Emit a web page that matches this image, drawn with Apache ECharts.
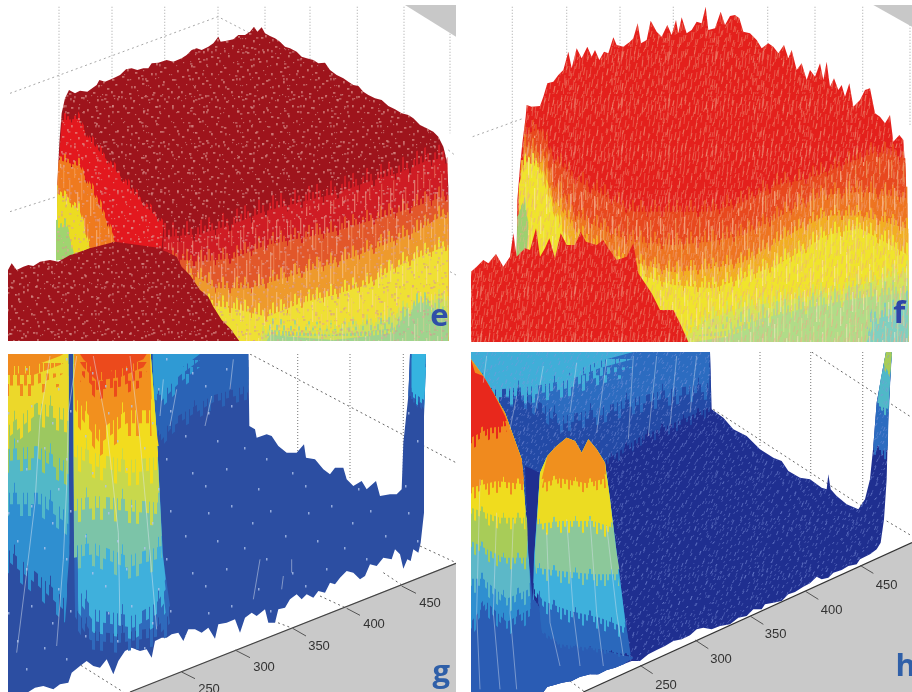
<!DOCTYPE html>
<html><head><meta charset="utf-8">
<style>html,body{margin:0;padding:0;background:#fff}#c{width:912px;height:692px;filter:blur(0.6px)}</style>
<script src="https://cdn.jsdelivr.net/npm/echarts@6/dist/echarts.min.js"></script>
</head><body><div id="c"></div>
<script>
// ---------- panel e (picture units, three per pixel) ----------
const eMain=[[170,780],[172,560],[178,430],[185,340],[195,295],[207,270],[225,280],[240,272],[262,275],[290,255],[298,240],[315,245],[340,235],[360,225],[378,208],[395,205],[412,210],[430,205],[445,205],[455,190],[475,188],[500,180],[520,185],[545,175],[560,165],[575,150],[590,145],[605,150],[625,140],[640,130],[655,110],[662,125],[680,122],[700,118],[715,105],[735,105],[750,95],[762,80],[772,95],[785,82],[795,100],[810,108],[825,115],[840,125],[855,140],[870,145],[890,155],[905,170],[920,175],[940,180],[955,190],[975,188],[990,210],[1010,225],[1030,235],[1045,245],[1060,255],[1075,258],[1090,275],[1105,285],[1125,295],[1145,300],[1165,318],[1185,328],[1205,340],[1225,345],[1240,355],[1260,375],[1280,385],[1300,395],[1315,410],[1330,440],[1340,480],[1345,560],[1345,1023],[500,1023],[480,760]];
const eRedR=[[490,730],[600,720],[700,690],[800,650],[900,625],[1000,600],[1100,565],[1200,535],[1280,500],[1342,490],[1345,1023],[490,1023]];
const eOrangeR=[[500,790],[600,800],[700,790],[800,750],[900,730],[1000,710],[1100,680],[1200,650],[1345,600],[1345,1023],[500,1023]];
const eGoldR=[[560,830],[650,880],[750,880],[850,850],[950,820],[1050,790],[1150,750],[1250,710],[1345,650],[1345,1023],[560,1023]];
const eYellowR=[[620,930],[700,940],[800,965],[900,925],[1000,900],[1100,870],[1200,810],[1345,750],[1345,1023],[620,1023]];
const eLimeR=[[780,1023],[790,1000],[880,1005],[1000,1000],[1150,975],[1230,930],[1345,900],[1345,1023]];
const eGreenR=[[800,1023],[810,1005],[1000,1020],[1180,1000],[1260,920],[1345,960],[1345,1023]];
const eWedgeRed=[[187,370],[235,365],[270,430],[330,500],[420,610],[490,680],[485,745],[345,725],[300,620],[240,510],[178,480]];
const eWedgeOrange=[[176,490],[240,510],[290,610],[345,725],[270,745],[240,650],[172,590]];
const eWedgeYellow=[[172,590],[238,640],[270,745],[170,780]];
const eWedgeGreen=[[168,695],[200,690],[222,770],[168,782]];
const eFront=[[24,1023],[24,810],[35,790],[50,810],[70,800],[85,795],[100,798],[120,785],[150,780],[175,785],[210,765],[240,758],[270,745],[310,745],[340,725],[360,735],[385,732],[410,738],[440,745],[470,745],[500,755],[530,770],[545,800],[570,825],[600,870],[625,890],[640,920],[665,960],[690,985],[718,1023]];
const eCorner=[[1215,15],[1368,15],[1368,110]];
const eGridX=[177,336,494,654,795,930,1072,1212,1350];
const eGridEnd=[800,260,190,130,90,190,260,340,400];
const eDiag=[[[30,280],[654,50],[760,105]],[[30,635],[170,590]],[[1345,450],[1368,468]],[[1350,815],[1368,825]]];

// ---------- panel f ----------
const fMain=[[170,770],[172,600],[180,500],[187,430],[197,350],[200,315],[215,320],[240,318],[250,290],[262,250],[280,245],[295,225],[310,210],[325,155],[335,205],[350,145],[365,175],[382,140],[395,170],[405,150],[418,180],[432,155],[445,160],[460,112],[470,135],[490,140],[510,125],[520,115],[533,70],[543,130],[560,120],[572,62],[590,95],[605,110],[622,75],[635,105],[648,60],[655,100],[665,52],[680,100],[695,90],[710,65],[725,70],[737,20],[745,90],[765,85],[782,35],[795,75],[810,48],[825,45],[838,55],[850,95],[870,100],[890,120],[905,145],[925,130],[940,140],[955,160],[972,135],[985,175],[995,150],[1010,210],[1025,190],[1040,240],[1050,210],[1065,230],[1080,190],[1090,240],[1100,185],[1110,260],[1122,235],[1135,270],[1145,255],[1155,290],[1168,250],[1180,320],[1200,300],[1215,270],[1230,265],[1245,340],[1260,350],[1275,370],[1290,345],[1300,425],[1318,405],[1330,420],[1338,540],[1340,700],[1345,1026],[500,1026],[480,780]];
const fOrange=[[195,420],[240,400],[275,480],[340,550],[430,600],[520,650],[650,650],[750,650],[850,620],[950,570],[1050,550],[1150,510],[1250,470],[1336,490],[1345,1026],[195,1026]];
const fDeepOrange=[[190,450],[250,480],[285,570],[345,660],[440,710],[520,740],[640,750],[750,740],[850,720],[950,670],[1020,630],[1100,600],[1200,590],[1342,610],[1345,1026],[190,1026]];
const fGold=[[182,510],[245,500],[275,600],[350,710],[440,770],[520,800],[640,830],[750,820],[850,800],[950,740],[1020,700],[1100,660],[1200,660],[1345,700],[1345,1026],[182,1026]];
const fYellow=[[176,570],[200,500],[240,520],[260,590],[300,690],[330,770],[540,840],[640,870],[760,880],[850,850],[950,810],[1020,770],[1100,720],[1200,700],[1345,780],[1345,1026],[176,1026]];
const fLime=[[660,1026],[690,1000],[780,960],[850,935],[950,920],[1050,905],[1200,870],[1345,830],[1345,1026]];
const fGreen=[[700,1026],[800,1010],[900,975],[1050,940],[1180,915],[1345,895],[1345,1026]];
const fTeal=[[1220,1026],[1240,975],[1290,965],[1345,930],[1345,1026]];
const fLeftGreen=[[172,650],[195,610],[205,680],[200,760],[170,770]];
const fFront=[[33,1026],[33,815],[50,800],[70,780],[85,790],[108,762],[130,800],[150,770],[160,700],[170,770],[195,745],[210,750],[228,685],[240,770],[255,745],[268,715],[285,775],[302,700],[320,735],[345,735],[362,695],[378,725],[410,735],[430,720],[445,745],[470,780],[500,770],[520,730],[535,820],[555,850],[575,880],[600,930],[640,930],[660,970],[685,1026]];
const fCorner=[[1240,15],[1356,15],[1356,80]];
const fGridX=[157,320,480,640,923,1065,1208,1350];
const fGridEnd=[770,240,140,100,150,230,280,380];
const fDiag=[[[38,410],[190,355]]];

// ---------- panel g ----------
const gMain=[[24,24],[745,24],[748,240],[765,250],[770,275],[800,265],[815,270],[835,300],[860,320],[890,320],[912,295],[918,335],[945,340],[970,370],[990,385],[1005,365],[1030,365],[1040,400],[1060,420],[1085,405],[1100,430],[1128,405],[1140,450],[1170,445],[1190,445],[1205,430],[1210,290],[1225,150],[1230,24],[1278,24],[1272,180],[1272,500],[1262,590],[1255,620],[1240,610],[1232,645],[1222,640],[1210,668],[1200,625],[1185,610],[1175,640],[1150,635],[1130,660],[1110,655],[1095,690],[1080,700],[1060,680],[1040,675],[1020,695],[1005,715],[990,710],[975,740],[955,735],[940,755],[920,745],[905,760],[890,745],[870,760],[855,785],[835,790],[825,830],[805,830],[795,790],[770,810],[755,800],[735,815],[720,860],[705,820],[680,830],[655,835],[645,878],[625,845],[605,860],[585,850],[565,850],[550,885],[535,860],[515,865],[500,875],[485,875],[465,885],[455,935],[440,910],[420,915],[395,905],[375,915],[355,945],[340,985],[320,940],[300,965],[280,960],[260,945],[240,960],[215,980],[205,1010],[180,1015],[160,1030],[130,1020],[105,1025],[85,1038],[24,1038]];
const gBackMid=[[458,24],[745,24],[745,100],[640,130],[520,200],[470,260],[458,200]];
const gBackCyan=[[458,24],[600,24],[540,70],[480,130],[462,120]];
const gSpikeMid=[[1225,150],[1230,24],[1278,24],[1272,180],[1250,150]];
const gSpikeCyan=[[1235,24],[1278,24],[1272,150],[1235,125]];
const gLeftCyan=[[24,24],[205,24],[208,560],[195,730],[110,650],[24,580]];
const gLeftTeal=[[24,24],[205,24],[205,470],[120,410],[24,410]];
const gLeftGreen=[[24,24],[205,24],[205,320],[110,270],[24,280]];
const gLeftYellow=[[24,24],[205,24],[205,160],[110,140],[24,210]];
const gLeftOrange=[[24,24],[190,24],[180,30],[100,60],[24,60]];
const gMidBlue=[[220,24],[452,24],[470,260],[490,640],[510,780],[470,820],[350,840],[270,830],[225,760]];
const gMidCyan=[[220,24],[452,24],[470,260],[488,620],[497,700],[470,740],[400,780],[280,760],[235,700]];
const gMidTeal=[[220,24],[452,24],[470,260],[485,570],[380,600],[280,560],[222,570]];
const gMidGreen=[[220,24],[452,24],[470,260],[478,440],[380,430],[290,420],[222,430]];
const gMidYellow=[[222,24],[452,24],[470,260],[476,300],[380,310],[290,290],[222,260]];
const gMidOrange=[[222,24],[450,24],[455,160],[380,160],[300,220],[225,120]];
const gMidRed=[[240,24],[440,24],[430,40],[360,70],[290,80],[250,40]];
const gGray=[[390,1038],[1368,650],[1368,1038]];
const gAxis=[[390,1038],[1368,652]];
const gTicks=[[[545,978],[585,998]],[[705,912],[750,935]],[[878,847],[918,870]],[[1040,787],[1080,808]],[[1205,720],[1248,742]]];
const gTickLabels=['250','300','350','400','450'];
const gTickPos=[[627,1030],[792,965],[957,900],[1122,835],[1290,772]];
const gGridX=[893,1050,1210];
const gGridEnd=[320,400,430];
const gDiag=[[[750,24],[1368,350]],[[1260,600],[1368,650]],[[230,950],[370,1038]],[[1150,680],[1210,720]],[[960,750],[1040,787]],[[820,825],[878,847]]];
const gStreaks=[[[230,30],[205,200],[200,420],[190,640],[170,900]],[[150,30],[120,220],[105,470],[75,720],[50,920]],[[280,30],[320,240],[355,560],[360,840]],[[390,30],[420,280],[450,620],[470,850]],[[490,100],[480,210]],[[530,130],[510,240]],[[635,150],[615,240]],[[700,40],[690,130]],[[780,640],[760,760]],[[875,640],[875,680]],[[850,690],[845,730]]];

// ---------- panel h ----------
const hMain=[[33,18],[750,18],[755,190],[790,215],[820,250],[860,270],[900,310],[940,335],[965,345],[985,375],[1020,395],[1050,400],[1085,425],[1100,430],[1105,385],[1112,430],[1130,450],[1160,475],[1195,490],[1215,460],[1230,400],[1240,300],[1250,170],[1270,60],[1278,18],[1295,18],[1285,200],[1280,400],[1272,520],[1262,590],[1250,610],[1230,625],[1200,640],[1190,655],[1165,660],[1145,672],[1120,680],[1105,695],[1085,700],[1070,692],[1050,712],[1030,722],[1005,738],[985,745],[965,765],[940,770],[915,775],[905,790],[880,790],[860,810],[835,815],[810,835],[780,840],[755,850],[730,845],[710,850],[690,868],[665,880],[640,885],[615,900],[590,912],[565,925],[540,945],[515,945],[490,955],[465,965],[440,972],[415,985],[390,985],[360,992],[335,1005],[305,1010],[280,1018],[262,1022],[250,1038],[33,1038]];
const hBackBlue=[[33,18],[750,18],[752,170],[640,220],[540,260],[440,330],[300,400],[33,600]];
const hBackMid=[[33,18],[750,18],[745,90],[620,110],[500,140],[400,170],[300,190],[200,120],[33,90]];
const hBackCyan=[[33,18],[520,18],[420,45],[330,80],[220,100],[100,110],[33,50]];
const hSpikeMid=[[1250,170],[1270,60],[1278,18],[1295,18],[1285,200],[1283,300],[1240,300]];
const hSpikeTeal=[[1262,100],[1270,60],[1278,18],[1295,18],[1288,120],[1285,180],[1252,170]];
const hSpikeGreen=[[1272,50],[1278,18],[1295,18],[1290,80]];
const hBottomBlue=[[33,600],[205,640],[222,760],[300,880],[520,935],[490,955],[465,965],[440,972],[415,985],[390,985],[360,992],[335,1005],[305,1010],[280,1018],[262,1022],[250,1038],[33,1038]];
const hLeftMid=[[33,40],[70,90],[135,200],[185,340],[197,500],[208,650],[212,770],[140,810],[80,750],[33,810]];
const hLeftCyan=[[33,40],[70,90],[135,200],[185,340],[197,500],[207,640],[210,710],[140,740],[70,680],[33,680]];
const hLeftGreen=[[33,40],[70,90],[135,200],[185,340],[197,500],[204,530],[200,620],[130,620],[33,570]];
const hLeftYellow=[[33,40],[70,90],[135,200],[185,340],[197,500],[120,500],[33,470]];
const hLeftOrange=[[33,40],[70,90],[135,200],[185,340],[192,400],[110,390],[33,410]];
const hLeftRed=[[33,40],[45,80],[70,90],[100,140],[135,210],[140,225],[90,230],[33,260]];
const hGap=[[195,360],[240,380],[225,640],[218,760],[205,620]];
const hMidBlue=[[222,640],[240,380],[262,330],[290,300],[320,275],[345,285],[365,320],[385,280],[410,310],[435,350],[450,460],[470,620],[490,780],[508,900],[512,925],[420,905],[300,890],[245,850]];
const hMidCyan=[[222,640],[240,380],[262,330],[290,300],[320,275],[345,285],[365,320],[385,280],[410,310],[435,350],[450,460],[470,620],[490,780],[496,830],[420,800],[330,780],[250,750],[220,710]];
const hMidGreen=[[225,620],[240,380],[262,330],[290,300],[320,275],[345,285],[365,320],[385,280],[410,310],[435,350],[450,460],[470,620],[478,670],[400,670],[300,660],[228,650]];
const hMidYellow=[[232,520],[240,380],[262,330],[290,300],[320,275],[345,285],[365,320],[385,280],[410,310],[435,350],[450,460],[458,530],[400,510],[300,510]];
const hMidOrange=[[245,400],[262,330],[290,300],[320,275],[345,285],[365,320],[385,280],[410,310],[435,350],[438,385],[380,400],[300,385]];
const hGray=[[370,1038],[1356,590],[1356,1038]];
const hAxis=[[370,1038],[1356,590]];
const hTicks=[[[540,958],[578,983]],[[705,882],[745,908]],[[870,810],[910,835]],[[1035,735],[1075,760]],[[1200,658],[1240,682]]];
const hTickLabels=['250','300','350','400','450'];
const hTickPos=[[618,1018],[783,940],[947,865],[1115,793],[1280,718]];
const hGridX=[900,1052,1208];
const hGridEnd=[300,390,470];
const hDiag=[[[1055,18],[1356,215]],[[760,190],[1205,480]],[[1280,525],[1356,570]],[[330,1005],[372,1036]]];
const hStreaks=[[[80,30],[70,110]],[[170,150],[150,250]],[[250,60],[225,200]],[[350,50],[330,200]],[[440,40],[410,260]],[[520,30],[505,280]],[[590,30],[565,270]],[[650,30],[630,240]],[[710,30],[690,200]],[[60,400],[50,800],[60,1030]],[[110,500],[100,800],[120,1030]],[[160,520],[150,800],[170,1030]],[[260,560],[270,830],[300,960]],[[320,520],[340,800],[360,960]],[[390,520],[410,800],[430,960]],[[440,540],[470,800],[490,930]]];

// ---------- panel letters ----------
const panelLetters=['e','f','g','h'];
const letterPos=[[1318,951],[1318,944],[1324,981],[1337,964]];

// ---------- texture tiles ----------
const speckleDots=[[3,2],[11,5],[19,1],[27,6],[36,3],[44,7],[53,2],[7,9],[15,12],[23,10],[31,13],[40,11],[49,14],[57,10],[2,16],[10,19],[18,17],[26,20],[35,18],[43,21],[52,19],[6,24],[14,26],[22,23],[30,27],[38,25],[47,28],[56,24],[1,31],[9,33],[17,30],[25,35],[33,32],[42,34],[51,31],[58,36],[5,38],[13,40],[21,37],[29,42],[37,39],[46,41],[54,38],[3,45],[11,47],[19,44],[27,49],[35,46],[44,48],[52,45],[7,52],[15,54],[23,51],[31,56],[40,53],[48,55],[57,51],[1,58],[18,58],[37,57]];
const streakLines=[[2,4,30],[5,48,18],[9,30,26],[12,2,16],[15,8,22],[18,52,20],[21,38,28],[24,14,20],[27,2,32],[30,44,22],[33,26,30],[36,0,18],[39,12,26],[42,50,20],[45,44,24],[48,20,18],[51,0,24],[54,36,26],[57,30,26],[60,4,20],[63,10,34],[66,50,18],[69,36,22],[71,6,16]];
const sparseDots=[[8,12],[31,5],[52,22],[17,40],[44,47],[70,10],[66,58],[26,68],[85,35],[92,72],[5,85],[58,88]];
const combDense=[0,4,8,11,15,19,22,26,30,33];
const combMid=[2,10,17,24,31];
const combSparse=[6,20,28];

function tile(w,h,draw){const c=document.createElement('canvas');c.width=w;c.height=h;draw(c.getContext('2d'));return {image:c,repeat:'repeat'};}
const texDots=(color,size,skip)=>tile(size,size,x=>{x.fillStyle=color;speckleDots.forEach((d,i)=>{if(i%skip===0)x.fillRect(d[0]%size,d[1]%size,1.2+(i%3)*.6,1.2+((i*2)%3)*.6);});});
const texStreak=(a,b)=>tile(72,72,x=>{streakLines.forEach((s,i)=>{x.fillStyle=i%2?a:b;x.fillRect(s[0],s[1],1.3,s[2]);});});
const texSparse=color=>tile(100,100,x=>{x.fillStyle=color;sparseDots.forEach(d=>x.fillRect(d[0],d[1],1.5,2.5));});
const texDash=(color,len,size)=>tile(size,size,x=>{x.strokeStyle=color;x.lineWidth=1;speckleDots.forEach((d,i)=>{const a=d[0]%size,b=d[1]%size;x.beginPath();x.moveTo(a+1,b);x.lineTo(a+(len>4?0:-.5),b+len*(1+(i%3)*.5));x.stroke();});});
const combCache={};
function comb(color,xs,w){const k=color+xs.length+w;if(!combCache[k])combCache[k]=tile(36,4,x=>{x.fillStyle=color;xs.forEach(v=>x.fillRect(v,0,w,4));});return combCache[k];}

const redSpeck=texDots('rgba(225,165,155,.6)',60,1), redSpeck2=texDots('rgba(215,150,145,.5)',47,2), fSpeck=texDash('rgba(240,165,130,.5)',4,60), fSpeck2=texDash('rgba(240,175,150,.35)',5,47);
const warmStreak=texStreak('rgba(255,225,190,.42)','rgba(255,200,150,.3)'), fStreak=texStreak('rgba(255,235,200,.5)','rgba(240,235,150,.38)');
const gSpeck=texSparse('rgba(175,195,235,.8)'), hSpeck=texDash('rgba(130,150,220,.55)',2,60), hSpeck2=texDash('rgba(130,150,220,.35)',2,47);

const P=(pts,fill)=>({k:'poly',pts,fill});
const L=(pts,color,width,dash)=>({k:'line',pts,color,width,dash});
const T=(pos,text,color,size,weight)=>({k:'text',pos,text,color,size,weight});
const grids=(xs,ends,y0,c)=>xs.map((x,i)=>L([[x,y0],[x,ends[i]]],c,1.2,[1,2]));
const diags=(d,c)=>d.map(p=>L(p,c,1,[2,3]));
const shift=(pts,dy)=>pts.map(p=>[p[0],p[1]+dy]);
// A colour band with the comb of columns that runs into its neighbour
const B=(pts,color,amp,w=2)=>[P(pts,color),P(shift(pts,amp*.3),comb(color,combDense,w)),P(shift(pts,amp*.65),comb(color,combMid,w)),P(shift(pts,amp),comb(color,combSparse,w))];

const shapesE=[...grids(eGridX,eGridEnd,20,'#b4b4b4'),...diags(eDiag,'#a8a8a8'),P(eCorner,'#c8c8c8'),
 P(eMain,'#9e141c'),...B(eRedR,'#cf1c24',-60),...B(eOrangeR,'#e2572a',-50),...B(eGoldR,'#ee9a2c',-50),...B(eYellowR,'#efe034',-50),...B(eLimeR,'#cfe05a',-40),...B(eGreenR,'#9fd48e',-50),
 ...B(eWedgeRed,'#e3181e',-30),...B(eWedgeOrange,'#ef7a1e',-35),...B(eWedgeYellow,'#ecdc22',-35),...B(eWedgeGreen,'#a0d470',-35),
 P(eRedR,warmStreak),P(eWedgeOrange,warmStreak),P(eMain,redSpeck),P(eMain,redSpeck2),P(eFront,'#9e141c'),P(eFront,redSpeck),P(eFront,redSpeck2),
 T(letterPos[0],panelLetters[0],'#2f4fa8',31,'bold')];
const shapesF=[...grids(fGridX,fGridEnd,20,'#b4b4b4'),...diags(fDiag,'#a8a8a8'),P(fCorner,'#c8c8c8'),
 P(fMain,'#e4201c'),...B(fOrange,'#e8481e',-50),...B(fDeepOrange,'#ee7420',-50),...B(fGold,'#f2ae22',-45),...B(fYellow,'#f0e42c',-50),...B(fLime,'#d6e458',-50),...B(fGreen,'#b0dc88',-60),...B(fTeal,'#80cfc0',-60),...B(fLeftGreen,'#9ed070',-20),
 P(fOrange,fStreak),P(fMain,fSpeck),P(fMain,fSpeck2),P(fFront,'#e4201c'),P(fFront,fSpeck),P(fFront,fSpeck2),
 T(letterPos[1],panelLetters[1],'#2f45a8',31,'bold')];
const shapesG=[...grids(gGridX,gGridEnd,24,'#8c8c8c'),...diags(gDiag,'#666'),P(gGray,'#c9c9c9'),L(gAxis,'#444',1.2),
 ...gTicks.map(t=>L(t,'#555',1)),
 P(gMain,'#2c4ea2'),...B(gBackMid,'#2a63b6',60,3),...B(gBackCyan,'#2f9ad4',60,3),...B(gSpikeMid,'#2c5fb4',30),...B(gSpikeCyan,'#35b4e0',40),
 ...B(gLeftCyan,'#2f8fd0',100,3),...B(gLeftTeal,'#52b8c8',100,3),...B(gLeftGreen,'#9cc860',100,3),...B(gLeftYellow,'#ecd82a',100,3),...B(gLeftOrange,'#f08a1e',90,3),
 ...B(gMidBlue,'#2f6abc',80,3),...B(gMidCyan,'#3fb0dc',100,3),...B(gMidTeal,'#7cc4a8',100,3),...B(gMidGreen,'#c8d84c',100,3),...B(gMidYellow,'#f2dc1e',110,3),...B(gMidOrange,'#f2901e',110,3),...B(gMidRed,'#ec4a1c',80,3),
 P(gMain,gSpeck),
 ...gStreaks.map(s=>L(s,'rgba(225,232,240,.6)',.8)),
 ...gTickLabels.map((t,i)=>T(gTickPos[i],t,'#333',13,'normal')),T(letterPos[2],panelLetters[2],'#2f5fa8',31,'bold')];
const shapesH=[...grids(hGridX,hGridEnd,18,'#8c8c8c'),...diags(hDiag,'#666'),P(hGray,'#c9c9c9'),L(hAxis,'#333',1.2),
 ...hTicks.map(t=>L(t,'#555',1)),
 P(hMain,'#1f2f90'),...B(hBackBlue,'#234aa6',40),...B(hBackMid,'#2c6cc0',70,3),...B(hBackCyan,'#40aed8',70,3),...B(hSpikeMid,'#2c6cc0',40),...B(hSpikeTeal,'#50b8c8',30),...B(hSpikeGreen,'#a8cc58',20),P(hMain,hSpeck),P(hMain,hSpeck2),
 ...B(hBottomBlue,'#2a5cb4',0),...B(hLeftMid,'#2f8fd0',60),...B(hLeftCyan,'#5cb8c8',60),...B(hLeftGreen,'#a8cc58',50),...B(hLeftYellow,'#f0dc1e',50),...B(hLeftOrange,'#f08a1e',50),...B(hLeftRed,'#e8281c',50),
 P(hGap,'#1f2f90'),
 ...B(hMidBlue,'#2a68bc',15),...B(hMidCyan,'#3eb0dc',50),...B(hMidGreen,'#8cc89a',50),...B(hMidYellow,'#ecdc22',50),...B(hMidOrange,'#f0901e',40),
 ...hStreaks.map(s=>L(s,'rgba(220,228,240,.55)',.8)),
 ...hTickLabels.map((t,i)=>T(hTickPos[i],t,'#333',13,'normal')),T(letterPos[3],panelLetters[3],'#2f5fa8',31,'bold')];

const layout=[
 {px:[8,5,448,336],x:[24,1368],y:[15,1023],shapes:shapesE},
 {px:[471,5,441,337],x:[33,1356],y:[15,1026],shapes:shapesF},
 {px:[8,354,448,338],x:[24,1368],y:[24,1038],shapes:shapesG},
 {px:[471,352,441,340],x:[33,1356],y:[18,1038],shapes:shapesH}];

function makeRender(shapes){return function(params,api){
 const s=shapes[api.value(0)];
 if(s.k==='poly')return {type:'polygon',silent:true,shape:{points:s.pts.map(p=>api.coord(p))},style:{fill:s.fill}};
 if(s.k==='line')return {type:'polyline',silent:true,shape:{points:s.pts.map(p=>api.coord(p))},style:{fill:null,stroke:s.color,lineWidth:s.width,lineDash:s.dash||null}};
 const c=api.coord(s.pos);
 return {type:'text',silent:true,x:c[0],y:c[1],style:{text:s.text,fill:s.color,fontSize:s.size,fontWeight:s.weight,fontFamily:s.weight==='bold'?'Open Sans':'Liberation Sans',textAlign:'center',textVerticalAlign:'middle'}};
};}

const chart=echarts.init(document.getElementById('c'),null,{renderer:'canvas'});
chart.setOption({animation:false,backgroundColor:'#fff',
 grid:layout.map(l=>({left:l.px[0],top:l.px[1],width:l.px[2],height:l.px[3],containLabel:false})),
 xAxis:layout.map((l,i)=>({type:'value',gridIndex:i,min:l.x[0],max:l.x[1],show:false})),
 yAxis:layout.map((l,i)=>({type:'value',gridIndex:i,min:l.y[0],max:l.y[1],inverse:true,show:false})),
 series:layout.map((l,i)=>({type:'custom',xAxisIndex:i,yAxisIndex:i,clip:true,silent:true,encode:{x:[],y:[]},
   data:l.shapes.map((s,j)=>[j]),renderItem:makeRender(l.shapes)}))
});
</script></body></html>
